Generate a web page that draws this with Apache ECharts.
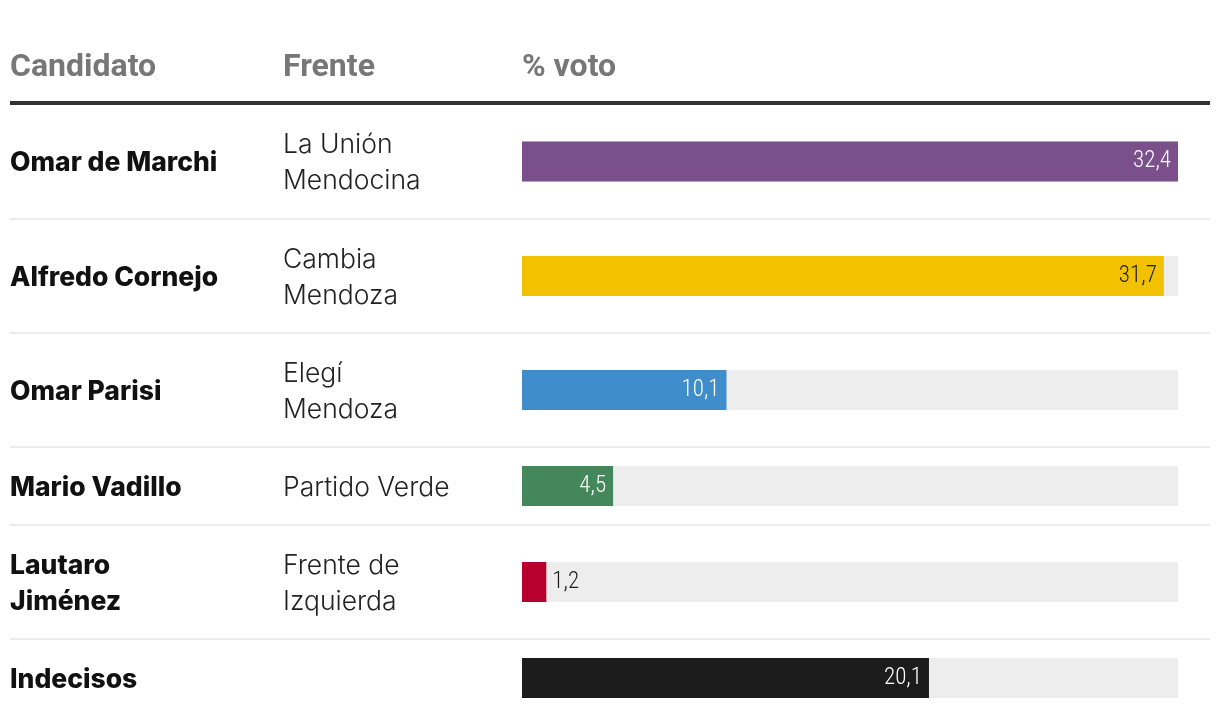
<!DOCTYPE html>
<html>
<head>
<meta charset="utf-8">
<script src="https://cdn.jsdelivr.net/npm/echarts@6/dist/echarts.min.js"></script>
<style>
html,body{margin:0;padding:0;background:#fff;}
#chart{width:1220px;height:726px;}
</style>
</head>
<body>
<div id="chart"></div>
<script>
// ---- data ----
const headers = ['Candidato', 'Frente', '% voto'];
const candidates = ['Omar de Marchi', 'Alfredo Cornejo', 'Omar Parisi', 'Mario Vadillo', 'Lautaro\nJiménez', 'Indecisos'];
const frentes = ['La Unión\nMendocina', 'Cambia\nMendoza', 'Elegí\nMendoza', 'Partido Verde', 'Frente de\nIzquierda', ''];
const votes = [32.4, 31.7, 10.1, 4.5, 1.2, 20.1];
const labels = ['32,4', '31,7', '10,1', '4,5', '1,2', '20,1'];
const colors = ['#7a4f8c', '#f2c200', '#3f8dcb', '#44875a', '#b8002f', '#1c1c1c'];
const labelColors = ['#ffffff', '#1a1a1a', '#ffffff', '#ffffff', '#1a1a1a', '#ffffff'];
const labelOutside = [false, false, false, false, true, false];

// ---- layout ----
const rowTops = [104, 219, 333, 447, 525, 639];
const rowHeights = [115, 114, 114, 78, 114, 78];
const barH = 40, barLeft = 522, barWidth = 656;
const maxVal = Math.max(...votes);

const chart = echarts.init(document.getElementById('chart'), null, {renderer: 'canvas'});

const grids = [], xAxes = [], yAxes = [], series = [];
const graphic = [];

// headers
const headerX = [10, 283, 522];
headers.forEach((h, i) => {
  graphic.push({type: 'text', x: headerX[i], y: 68, style: {
    text: h, fill: '#777777', font: 'bold 32px Roboto, "Liberation Sans", sans-serif',
    textVerticalAlign: 'middle'
  }});
});
graphic.push({type: 'rect', shape: {x: 10, y: 101, width: 1200, height: 4}, style: {fill: '#333333'}});

votes.forEach((v, i) => {
  const center = rowTops[i] + rowHeights[i] / 2;
  grids.push({left: barLeft, top: center - barH / 2, width: barWidth, height: barH});
  xAxes.push({type: 'value', gridIndex: i, min: 0, max: maxVal, show: false});
  yAxes.push({type: 'category', gridIndex: i, data: [candidates[i]], show: false});
  series.push({
    type: 'bar', xAxisIndex: i, yAxisIndex: i, data: [v], barWidth: barH,
    showBackground: true, backgroundStyle: {color: '#ededed'},
    itemStyle: {color: colors[i]},
    label: {
      show: true, position: labelOutside[i] ? 'right' : 'insideRight',
      distance: labelOutside[i] ? 6 : 7,
      formatter: () => labels[i], color: labelColors[i],
      fontFamily: '"Roboto Condensed", "Liberation Sans Narrow", Roboto, sans-serif',
      fontSize: 23, fontWeight: 300
    },
    silent: true, animation: false
  });
  // names
  graphic.push({type: 'text', x: 10, y: center + 2, style: {
    text: candidates[i], fill: '#111111',
    font: '800 26.5px Inter, Roboto, "Liberation Sans", sans-serif',
    textVerticalAlign: 'middle', lineHeight: 36
  }});
  if (frentes[i]) {
    graphic.push({type: 'text', x: 283, y: center + 2, style: {
      text: frentes[i], fill: '#222222',
      font: '300 26.5px Inter, Roboto, "Liberation Sans", sans-serif',
      textVerticalAlign: 'middle', lineHeight: 36
    }});
  }
  // separator
  if (i < votes.length - 1) {
    graphic.push({type: 'rect', shape: {x: 10, y: rowTops[i] + rowHeights[i] - 1, width: 1200, height: 2}, style: {fill: '#ececec'}});
  }
});

chart.setOption({
  animation: false,
  grid: grids, xAxis: xAxes, yAxis: yAxes, series: series,
  graphic: graphic
});
</script>
</body>
</html>
